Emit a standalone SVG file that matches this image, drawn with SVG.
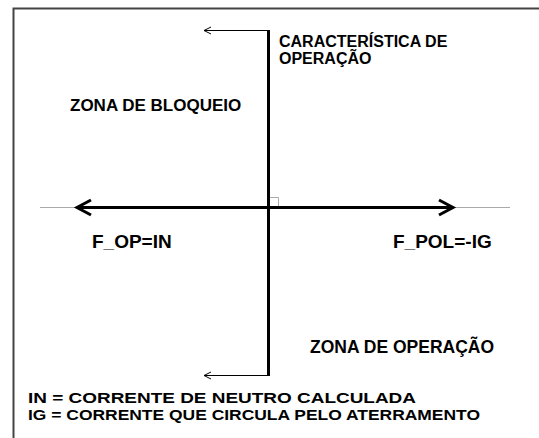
<svg xmlns="http://www.w3.org/2000/svg" width="539" height="438" viewBox="0 0 539 438">
<style>
text{font-family:"Liberation Sans",Arial,sans-serif;font-weight:bold;font-size:17px;fill:#000}
.thin{stroke:#000;stroke-width:1;fill:none}
.thick{stroke:#000;stroke-width:3;fill:none}
.gray{stroke:#aaa;stroke-width:1;fill:none}
</style>
<rect width="539" height="438" fill="#fff"/>
<g id="frame"><path d="M13.5,438 V8.5 H539" stroke="#444" stroke-width="2" fill="none"/></g>
<g id="connectors">
<line class="gray" x1="40" y1="207.5" x2="510" y2="207.5"/>
<path class="gray" d="M270,197.5 H278.5 V207"/>
<line class="thick" x1="77" y1="207.5" x2="453" y2="207.5"/>
<path class="thick" d="M91,200 L77,207.5 L91,215"/>
<path class="thick" d="M439,200 L453,207.5 L439,215"/>
<path class="thick" d="M268.5,30 V376"/>
<path class="thin" d="M268.5,30.5 H204 M211,27 L204,30.5 L211,34"/>
<path class="thin" d="M268.5,375.5 H204 M211,372 L204,375.5 L211,379"/>
</g>
<g id="labels">
<text x="279" y="47" style="font-size:16px">CARACTERÍSTICA DE</text>
<text x="279" y="64" style="font-size:16px">OPERAÇÃO</text>
<text x="70" y="111">ZONA DE BLOQUEIO</text>
<text x="92" y="248" style="font-size:19px">F_OP=IN</text>
<text x="393" y="248" style="font-size:19px">F_POL=-IG</text>
<text x="310" y="353" style="font-size:17.5px">ZONA DE OPERAÇÃO</text>
<text x="28" y="403" style="font-size:14.5px" textLength="388" lengthAdjust="spacingAndGlyphs">IN = CORRENTE DE NEUTRO CALCULADA</text>
<text x="28" y="420" style="font-size:14.5px" textLength="452" lengthAdjust="spacingAndGlyphs">IG = CORRENTE QUE CIRCULA PELO ATERRAMENTO</text>
</g>
</svg>
